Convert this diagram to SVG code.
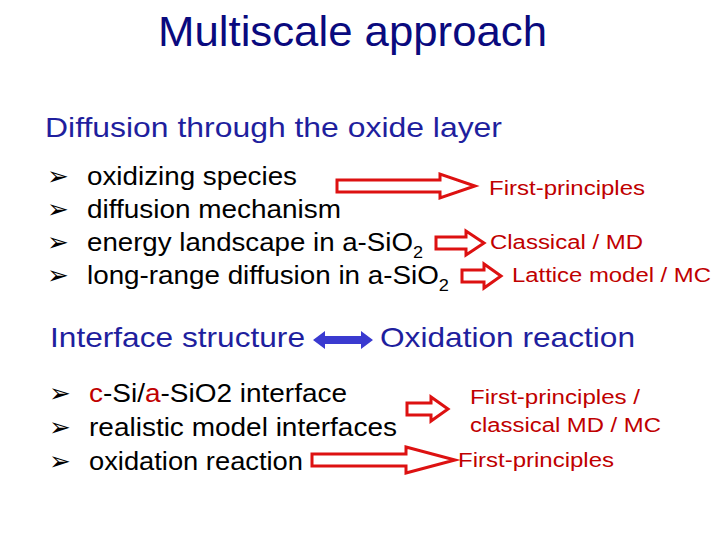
<svg xmlns="http://www.w3.org/2000/svg" width="720" height="540" viewBox="0 0 720 540">
<style>
text{font-family:"Liberation Sans",Arial,sans-serif}
.b{font-size:26px;fill:#000}
.h{font-size:28px;fill:#1f1f9e}
.r{font-size:20px;fill:#c00000}
.ar{fill:#fff;stroke:#dd1111;stroke-width:3;stroke-linejoin:miter}
</style>
<rect width="720" height="540" fill="#fff"/>
<g id="title"><text x="158" y="46" font-size="42" fill="#0a0a7e" textLength="389" lengthAdjust="spacingAndGlyphs">Multiscale approach</text></g>
<g id="sec1">
<text x="45" y="137" class="h" textLength="457" lengthAdjust="spacingAndGlyphs">Diffusion through the oxide layer</text>
<text x="47" y="185" class="b">➢</text><text x="87" y="185" class="b" textLength="210" lengthAdjust="spacingAndGlyphs">oxidizing species</text>
<text x="47" y="218" class="b">➢</text><text x="87" y="218" class="b" textLength="254" lengthAdjust="spacingAndGlyphs">diffusion mechanism</text>
<text x="47" y="251" class="b">➢</text><text x="87" y="251" class="b" textLength="336" lengthAdjust="spacingAndGlyphs">energy landscape in a-SiO<tspan font-size="17" dy="7">2</tspan></text>
<text x="47" y="284" class="b">➢</text><text x="87" y="284" class="b" textLength="362" lengthAdjust="spacingAndGlyphs">long-range diffusion in a-SiO<tspan font-size="17" dy="7">2</tspan></text>
</g>
<g id="labels1">
<text x="489" y="195" class="r" textLength="156" lengthAdjust="spacingAndGlyphs">First-principles</text>
<text x="490" y="249" class="r" textLength="153" lengthAdjust="spacingAndGlyphs">Classical / MD</text>
<text x="512" y="282" class="r" textLength="199" lengthAdjust="spacingAndGlyphs">Lattice model / MC</text>
</g>
<g id="sec2">
<text x="50" y="347" class="h" textLength="255" lengthAdjust="spacingAndGlyphs">Interface structure</text>
<text x="380" y="347" class="h" textLength="255" lengthAdjust="spacingAndGlyphs">Oxidation reaction</text>
<text x="49" y="402" class="b">➢</text><text x="89" y="402" class="b" textLength="258" lengthAdjust="spacingAndGlyphs"><tspan fill="#c00000">c</tspan>-Si/<tspan fill="#c00000">a</tspan>-SiO2 interface</text>
<text x="49" y="436" class="b">➢</text><text x="89" y="436" class="b" textLength="308" lengthAdjust="spacingAndGlyphs">realistic model interfaces</text>
<text x="49" y="470" class="b">➢</text><text x="89" y="470" class="b" textLength="214" lengthAdjust="spacingAndGlyphs">oxidation reaction</text>
</g>
<g id="labels2">
<text x="470" y="404" class="r" textLength="170" lengthAdjust="spacingAndGlyphs">First-principles /</text>
<text x="470" y="432" class="r" textLength="191" lengthAdjust="spacingAndGlyphs">classical MD / MC</text>
<text x="458" y="467" class="r" textLength="156" lengthAdjust="spacingAndGlyphs">First-principles</text>
</g>
<g id="connectors">
<path class="ar" d="M337,180 H440 V174 L475,186 L440,198 V192 H337 Z"/>
<path class="ar" d="M436,237 H466 V231 L484,243 L466,255 V249 H436 Z"/>
<path class="ar" d="M462,270 H484 V264 L501,276 L484,288 V282 H462 Z"/>
<path class="ar" d="M407,403 H431 V397 L448,409 L431,421 V415 H407 Z"/>
<path class="ar" d="M312,454 H406 V447 L455,460 L406,473 V466 H312 Z"/>
<path fill="#3a3ad0" d="M313,340 L325,331 V336 H361 V331 L373,340 L361,349 V344 H325 V349 Z"/>
</g>
</svg>
